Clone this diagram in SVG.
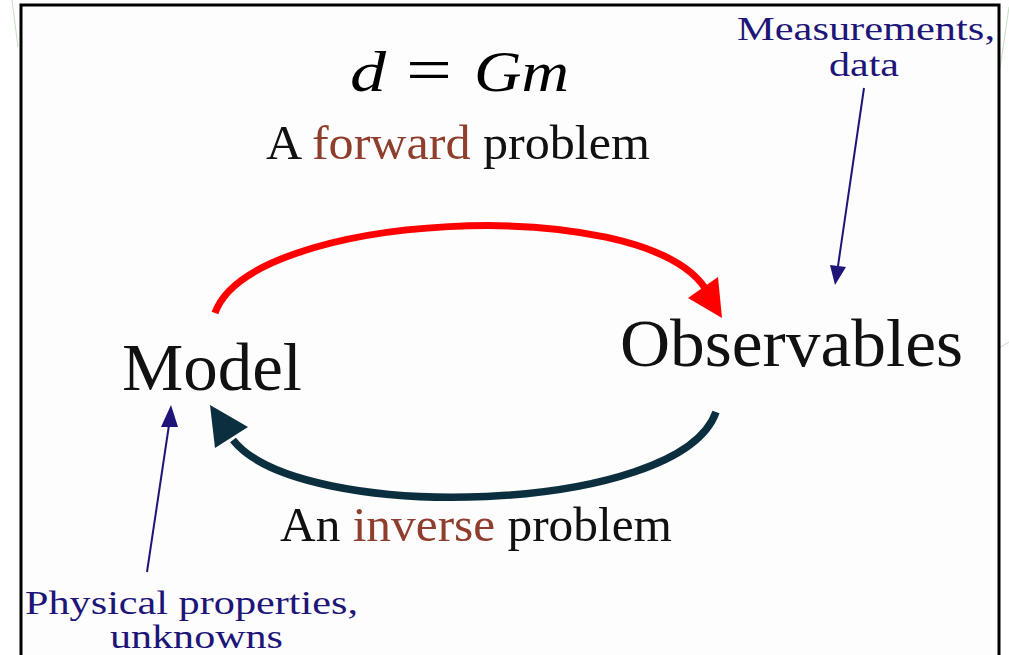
<svg xmlns="http://www.w3.org/2000/svg" width="1009" height="655" viewBox="0 0 1009 655">
  <style>
    .serif { font-family: "Liberation Serif", "Times New Roman", serif; }
    .black { fill: #111111; }
    .brown { fill: #8F3E2E; }
    .navy { fill: #1E1578; }
    .math { font-family: "Liberation Serif", "DejaVu Serif", serif; font-style: italic; fill: #000; }
    .deco { stroke: #9CC89A; stroke-width: 1; fill: none; opacity: 0.6; }
  </style>
  <rect x="0" y="0" width="1009" height="655" fill="#ffffff"/>
  <!-- faint slide decoration -->
  <g id="decoration">
    <line class="deco" x1="12" y1="0" x2="18" y2="47"/>
    <line class="deco" x1="1009" y1="7" x2="999" y2="75"/>
    <line class="deco" x1="999" y1="348" x2="1009" y2="342"/>
  </g>
  <!-- frame -->
  <rect id="frame" x="21" y="5" width="978" height="700" fill="#FDFDFD" stroke="#000" stroke-width="3"/>

  <g id="equation">
    <text class="math" x="350" y="91" font-size="56" textLength="36" lengthAdjust="spacingAndGlyphs">d</text>
    <text x="406" y="91" font-size="64" font-family="Liberation Serif, serif" fill="#000" textLength="46" lengthAdjust="spacingAndGlyphs">=</text>
    <text class="math" x="474" y="91" font-size="56" textLength="95" lengthAdjust="spacingAndGlyphs">Gm</text>
  </g>

  <g id="forward-label">
    <text class="serif" x="266" y="159" font-size="48" textLength="384" lengthAdjust="spacingAndGlyphs"><tspan class="black">A </tspan><tspan class="brown">forward</tspan><tspan class="black"> problem</tspan></text>
  </g>

  <g id="node-model">
    <text class="serif black" x="122" y="390" font-size="67" textLength="180" lengthAdjust="spacingAndGlyphs">Model</text>
  </g>

  <g id="node-observables">
    <text class="serif black" x="620" y="366" font-size="67" textLength="343" lengthAdjust="spacingAndGlyphs">Observables</text>
  </g>

  <g id="inverse-label">
    <text class="serif" x="280" y="541" font-size="48" textLength="392" lengthAdjust="spacingAndGlyphs"><tspan class="black">An </tspan><tspan class="brown">inverse</tspan><tspan class="black"> problem</tspan></text>
  </g>

  <g id="label-measurements">
    <text class="serif navy" x="737" y="40" font-size="33" textLength="258" lengthAdjust="spacingAndGlyphs">Measurements,</text>
    <text class="serif navy" x="829" y="76" font-size="33" textLength="70" lengthAdjust="spacingAndGlyphs">data</text>
  </g>

  <g id="label-physical">
    <text class="serif navy" x="25" y="614" font-size="33" textLength="333" lengthAdjust="spacingAndGlyphs">Physical properties,</text>
    <text class="serif navy" x="110" y="648" font-size="33" textLength="173" lengthAdjust="spacingAndGlyphs">unknowns</text>
  </g>

  <g id="connectors">
    <!-- forward arrow (red) -->
    <path d="M215,313 C250,212 640,192 705,288" fill="none" stroke="#FF0000" stroke-width="7"/>
    <polygon points="722,318 718,277 688,298" fill="#FF0000"/>
    <!-- inverse arrow (dark) -->
    <path d="M716,412 C680,515 300,525 233,440" fill="none" stroke="#0C2F40" stroke-width="7.5"/>
    <polygon points="210,405 248,427 215,448" fill="#0C2F40"/>
    <!-- measurement pointer -->
    <line x1="864" y1="88" x2="838" y2="266" stroke="#1E1578" stroke-width="2"/>
    <polygon points="835,285 830,265 846,267" fill="#1E1578"/>
    <!-- physical properties pointer -->
    <line x1="147" y1="572" x2="169" y2="425" stroke="#1E1578" stroke-width="2"/>
    <polygon points="171,405 161,427 178,427" fill="#1E1578"/>
  </g>
</svg>
